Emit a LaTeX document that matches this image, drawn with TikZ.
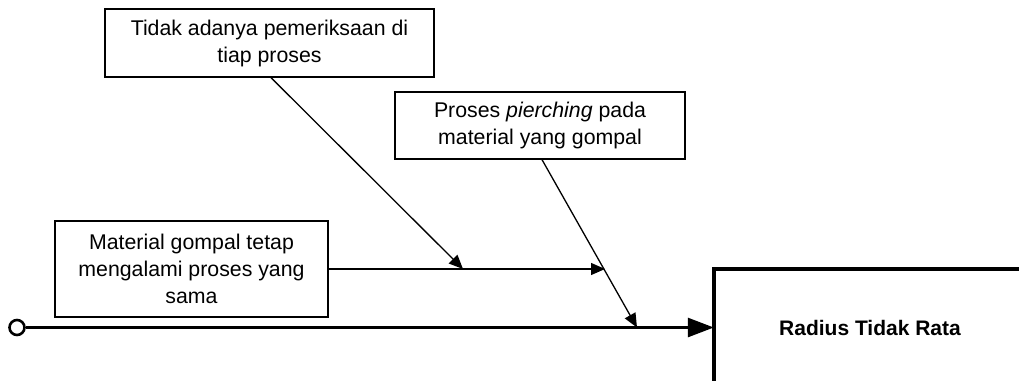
\documentclass[tikz,border=0pt]{standalone}
\usepackage{fontspec}
\setmainfont{Liberation Sans}
\usetikzlibrary{arrows.meta}
\begin{document}
\begin{tikzpicture}[x=1pt,y=-1pt,
  causebox/.style={draw, line width=1.3pt, align=center, inner sep=0pt,
    font=\fontsize{21.3}{27}\selectfont},
  branch/.style={line width=1.3pt, -{Triangle[length=14pt,width=12pt]}},
  spine/.style={line width=2.8pt, -{Triangle[length=26pt,width=19pt]}},
  effectbox/.style={inner sep=0pt, font=\bfseries\fontsize{21}{24}\selectfont}]
  \useasboundingbox (0,0) rectangle (1019,380);

  % cause boxes
  \node[causebox, minimum width=329pt, minimum height=68pt] (box1) at (269.5,43)
    {Tidak adanya pemeriksaan di\\tiap proses};
  \node[causebox, minimum width=290pt, minimum height=67pt] (box2) at (540,125.5)
    {Proses \textit{pierching} pada\\material yang gompal};
  \node[causebox, minimum width=273pt, minimum height=96pt] (box3) at (191.5,269)
    {Material gompal tetap\\mengalami proses yang\\sama};

  % effect box (open to the right and bottom)
  \node[effectbox, minimum width=312pt, minimum height=117pt] (effect) at (870,327.5)
    {Radius Tidak Rata};
  \draw[line width=4pt, line join=miter]
    (effect.south west) -- (effect.north west) -- (effect.north east);

  % tail of the spine
  \node[circle, draw, line width=2.6pt, minimum size=15pt, inner sep=0pt] (start) at (17,327.5) {};

  % arrow end points
  \coordinate (j1) at (463,269);
  \coordinate (j2) at (605,269);
  \coordinate (s1) at (637,327.5);

  % main spine
  \draw[spine] (start) -- (effect.west);

  % branches
  \draw[branch] (box3.east) -- (j2);
  \draw[branch] ([xshift=1.5pt]box1.south) -- (j1);
  \draw[branch] ([xshift=2pt]box2.south) -- (s1);
\end{tikzpicture}
\end{document}
